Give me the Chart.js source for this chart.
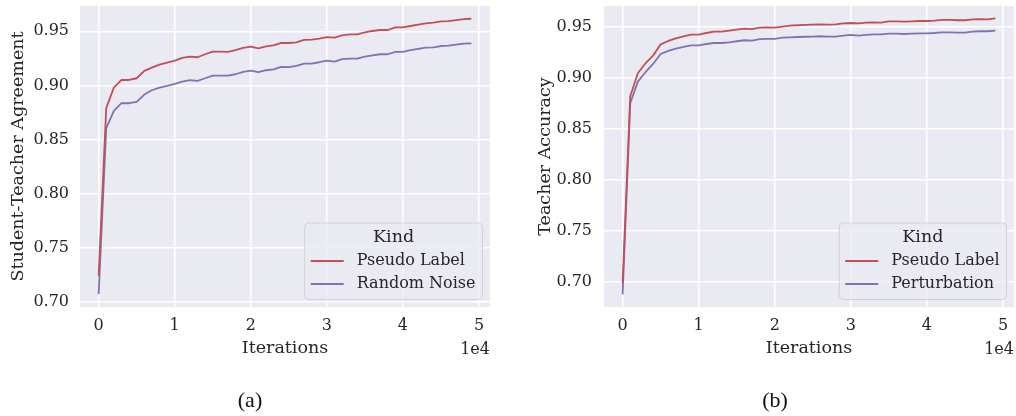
<!DOCTYPE html>
<html><head><meta charset="utf-8">
<script src="https://cdn.jsdelivr.net/npm/chart.js@4"></script>
<style>
html,body{margin:0;padding:0;background:#fff;width:1016px;height:416px;overflow:hidden;}
canvas{position:absolute;top:0;}
#ca{left:0}
#cb{left:508px}
.cap{position:absolute;font-family:"Liberation Serif","Times New Roman",serif;font-size:22px;line-height:22px;color:#111;transform:translateX(-50%);white-space:nowrap;}
</style></head><body>
<canvas id="ca" width="508" height="416"></canvas>
<canvas id="cb" width="508" height="416"></canvas>
<div class="cap" style="left:250px;top:389px">(a)</div>
<div class="cap" style="left:775px;top:389px">(b)</div>
<script>
// ---- data ----
const iterations = [0,1000,2000,3000,4000,5000,6000,7000,8000,9000,10000,11000,12000,13000,14000,15000,16000,17000,18000,19000,20000,21000,22000,23000,24000,25000,26000,27000,28000,29000,30000,31000,32000,33000,34000,35000,36000,37000,38000,39000,40000,41000,42000,43000,44000,45000,46000,47000,48000,49000];

const agreePseudoLabel = [0.724,0.879,0.898,0.905,0.905,0.9066,0.9134,0.9164,0.9192,0.921,0.9229,0.9254,0.9266,0.926,0.9288,0.9312,0.9312,0.931,0.9325,0.9346,0.9358,0.9343,0.9361,0.937,0.9393,0.9392,0.9398,0.942,0.9423,0.9432,0.9447,0.9441,0.9463,0.9472,0.9472,0.949,0.9503,0.9512,0.9512,0.9537,0.9537,0.9549,0.9561,0.9574,0.958,0.9592,0.9595,0.9604,0.9613,0.9616];
const agreeRandomNoise = [0.707,0.8605,0.8764,0.8835,0.8835,0.8847,0.8915,0.8955,0.898,0.8995,0.9014,0.9035,0.9048,0.9041,0.9066,0.909,0.909,0.909,0.9103,0.9124,0.9137,0.9122,0.914,0.9149,0.9172,0.9168,0.918,0.9201,0.9201,0.9214,0.9229,0.922,0.9242,0.9247,0.9247,0.9266,0.9278,0.9288,0.9288,0.9309,0.9309,0.9325,0.9337,0.9349,0.9352,0.9364,0.9367,0.9376,0.9386,0.9389];

const accPseudoLabel = [0.699,0.882,0.9046,0.9144,0.9219,0.933,0.9363,0.9389,0.9409,0.9425,0.9425,0.9441,0.9454,0.9454,0.9464,0.9474,0.9483,0.948,0.9493,0.9497,0.9493,0.9503,0.9513,0.9517,0.952,0.9524,0.9526,0.9523,0.9526,0.9536,0.9539,0.9536,0.9542,0.9546,0.9542,0.9556,0.9556,0.9552,0.9556,0.9559,0.9559,0.9562,0.9569,0.9569,0.9566,0.9566,0.9575,0.9578,0.9575,0.9585];
const accPerturbation = [0.6876,0.8752,0.8964,0.9056,0.9137,0.9235,0.9265,0.9287,0.9304,0.932,0.932,0.9333,0.9343,0.9343,0.935,0.936,0.937,0.9366,0.938,0.9383,0.9383,0.9395,0.9399,0.9402,0.9404,0.9406,0.9409,0.9405,0.9405,0.9415,0.9422,0.9415,0.9422,0.9428,0.9428,0.9434,0.9434,0.9431,0.9434,0.9438,0.9438,0.9441,0.9448,0.9448,0.9444,0.9444,0.9454,0.9458,0.9458,0.9464];

const xTicks = [0,10000,20000,30000,40000,50000];
const xTickLabels = ['0','1','2','3','4','5'];
const yTicks = [0.70,0.75,0.80,0.85,0.90,0.95];
const xOffsetText = '1e4';
const xTitle = 'Iterations';
const legendTitle = 'Kind';
const seriesNamesA = ['Pseudo Label','Random Noise'];
const seriesNamesB = ['Pseudo Label','Perturbation'];
const yTitleA = 'Student-Teacher Agreement';
const yTitleB = 'Teacher Accuracy';

// ---- style ----
const RED = '#C44E52', PURPLE = '#8172B3', TEXT = '#262626', BG = '#EAEAF2';
const FONT = {family: 'DejaVu Serif', size: 16};
const TITLE_FONT = {family: 'DejaVu Serif', size: 17.5};
Chart.defaults.font.family = 'DejaVu Serif';
Chart.defaults.color = TEXT;

const bgPlugin = {
  id: 'bgFill',
  beforeDraw(chart) {
    const {ctx, chartArea: a} = chart;
    ctx.save();
    ctx.fillStyle = BG;
    ctx.fillRect(a.left, a.top, a.right - a.left, a.bottom - a.top);
    ctx.restore();
  }
};

const kindLegend = {
  id: 'kindLegend',
  afterDraw(chart) {
    const {ctx, chartArea: a} = chart;
    const ds = chart.data.datasets;
    ctx.save();
    ctx.font = '16px "DejaVu Serif"';
    let w = 0;
    ds.forEach(d => { w = Math.max(w, ctx.measureText(d.label).width); });
    const bw = 59 + w, bh = 76.5;
    const right = a.right - 7.5, bottom = a.bottom - 7.5;
    const left = right - bw, top = bottom - bh;
    const r = 4;
    ctx.beginPath();
    ctx.moveTo(left + r, top);
    ctx.arcTo(right, top, right, bottom, r);
    ctx.arcTo(right, bottom, left, bottom, r);
    ctx.arcTo(left, bottom, left, top, r);
    ctx.arcTo(left, top, right, top, r);
    ctx.closePath();
    ctx.fillStyle = 'rgba(234,234,242,0.8)';
    ctx.fill();
    ctx.strokeStyle = 'rgba(204,204,204,0.8)';
    ctx.lineWidth = 1;
    ctx.stroke();
    ctx.fillStyle = TEXT;
    ctx.textBaseline = 'middle';
    ctx.textAlign = 'center';
    ctx.font = '17.5px "DejaVu Serif"';
    ctx.fillText(legendTitle, left + bw / 2, top + 14);
    ctx.font = '16px "DejaVu Serif"';
    ctx.textAlign = 'left';
    ds.forEach((d, i) => {
      const y = top + 38 + i * 23;
      ctx.strokeStyle = d.borderColor;
      ctx.lineWidth = 1.8;
      ctx.beginPath();
      ctx.moveTo(left + 6, y);
      ctx.lineTo(left + 39, y);
      ctx.stroke();
      ctx.fillStyle = TEXT;
      ctx.fillText(d.label, left + 52, y);
    });
    ctx.restore();
  }
};

const offsetTextPlugin = {
  id: 'offsetText',
  afterDraw(chart) {
    const {ctx, chartArea: a} = chart;
    ctx.save();
    ctx.font = '16px "DejaVu Serif"';
    ctx.fillStyle = TEXT;
    ctx.textAlign = 'right';
    ctx.textBaseline = 'alphabetic';
    ctx.fillText(xOffsetText, a.right, a.bottom + 47);
    ctx.restore();
  }
};

function build(id, names, seriesValues, yTitle, yMin, yMax, yAxisW, yTitlePad, yTickPad, padRight) {
  const colors = [RED, PURPLE];
  new Chart(document.getElementById(id), {
    type: 'line',
    data: {
      datasets: seriesValues.map((vals, k) => ({
        label: names[k],
        data: iterations.map((x, i) => ({x: x, y: vals[i]})),
        borderColor: colors[k],
        backgroundColor: colors[k],
        borderWidth: 1.8,
        borderJoinStyle: 'round',
        pointRadius: 0,
        tension: 0,
        fill: false
      }))
    },
    options: {
      responsive: false,
      animation: false,
      devicePixelRatio: 1,
      layout: {padding: {left: 0, top: 6, right: padRight, bottom: 57}},
      plugins: {legend: {display: false}, tooltip: {enabled: false}},
      scales: {
        x: {
          type: 'linear', min: -2450, max: 51450,
          afterBuildTicks: s => { s.ticks = xTicks.map(v => ({value: v})); },
          afterFit: s => { s.height = 52; s.paddingLeft = 0; s.paddingRight = 0; },
          ticks: {callback: (v, i) => xTickLabels[i], font: FONT, color: TEXT, padding: 9, maxRotation: 0, autoSkip: false},
          grid: {color: '#ffffff', lineWidth: 1.5, drawTicks: false},
          border: {display: false},
          title: {display: true, text: xTitle, font: TITLE_FONT, color: TEXT, padding: 0}
        },
        y: {
          type: 'linear', min: yMin, max: yMax,
          afterBuildTicks: s => { s.ticks = yTicks.map(v => ({value: v})); },
          afterFit: s => { s.width = yAxisW; s.paddingTop = 0; s.paddingBottom = 0; },
          ticks: {callback: v => v.toFixed(2), font: FONT, color: TEXT, padding: yTickPad, autoSkip: false},
          grid: {color: '#ffffff', lineWidth: 1.5, drawTicks: false},
          border: {display: false},
          title: {display: true, text: yTitle, font: TITLE_FONT, color: TEXT, padding: {top: yTitlePad, bottom: 0}}
        }
      }
    },
    plugins: [bgPlugin, kindLegend, offsetTextPlugin]
  });
}

build('ca', seriesNamesA, [agreePseudoLabel, agreeRandomNoise], yTitleA, 0.6951, 0.9734, 80, 8.4, 11, 18);
build('cb', seriesNamesB, [accPseudoLabel, accPerturbation], yTitleB, 0.6752, 0.9706, 96, 27.1, 12, 2);
</script></body></html>
